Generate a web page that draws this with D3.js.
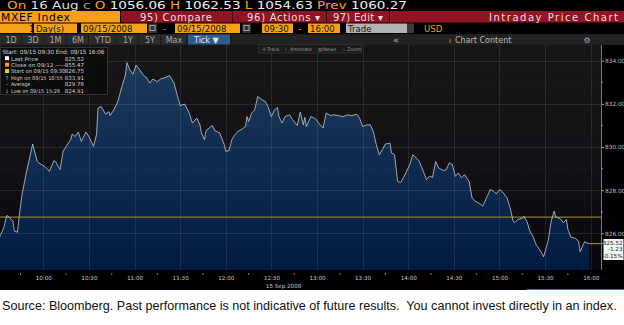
<!DOCTYPE html>
<html>
<head>
<meta charset="utf-8">
<script src="https://cdn.jsdelivr.net/npm/d3@7"></script>
<style>
  body { margin: 0; background: #fff; }
  svg { display: block; }
  .hdr { font-family: "DejaVu Sans", sans-serif; }
  .axis text { font-family: "DejaVu Sans", sans-serif; }
</style>
</head>
<body>
<svg width="624" height="325"></svg>
<script>
// intraday ticks, 15 Sep 2008
var times = ["09:30","09:34","09:36","09:38","09:40","09:41","09:43","09:44","09:46","09:49",
  "09:51","09:53","09:56","09:57","09:59","10:01","10:04","10:07","10:08","10:11",
  "10:13","10:15","10:18","10:19","10:21","10:23","10:25","10:28","10:30","10:33",
  "10:35","10:36","10:38","10:41","10:43","10:44","10:47","10:49","10:52","10:54",
  "10:55","10:57","10:59","11:01","11:04","11:06","11:08","11:10","11:12","11:15",
  "11:17","11:20","11:23","11:26","11:28","11:30","11:33","11:36","11:38","11:41",
  "11:43","11:44","11:46","11:47","11:51","11:53","11:56","11:59","12:00","12:02",
  "12:04","12:06","12:08","12:10","12:13","12:14","12:15","12:17","12:19","12:21",
  "12:24","12:26","12:28","12:30","12:32","12:34","12:35","12:37","12:39","12:42",
  "12:44","12:47","12:49","12:51","12:52","12:53","12:56","12:59","13:01","13:04",
  "13:06","13:09","13:11","13:14","13:17","13:20","13:23","13:26","13:28","13:30",
  "13:33","13:35","13:37","13:39","13:41","13:43","13:45","13:48","13:49","13:51",
  "13:53","13:55","13:57","14:01","14:03","14:07","14:09","14:12","14:14","14:16",
  "14:18","14:20","14:23","14:25","14:27","14:29","14:31","14:33","14:35","14:37",
  "14:40","14:42","14:44","14:47","14:49","14:52","14:54","14:56","14:58","15:00",
  "15:02","15:05","15:07","15:09","15:10","15:12","15:15","15:16","15:18","15:20",
  "15:22","15:24","15:27","15:28","15:29","15:32","15:34","15:36","15:37","15:40",
  "15:42","15:44","15:45","15:47","15:50","15:52","15:53","15:56","15:57","15:59"];

var prices = [825.64,826.26,826.83,826.72,826.56,826.10,826.05,826.72,827.80,828.87,
  829.49,830.14,829.33,829.26,829.18,829.10,828.87,829.37,829.33,828.95,
  829.80,830.03,830.34,830.60,830.49,830.69,830.26,830.69,830.49,830.03,
  830.57,831.80,831.88,831.52,831.64,831.46,831.80,832.11,832.88,833.34,
  833.91,833.57,833.37,833.80,833.52,833.31,833.21,832.96,833.15,833.03,
  833.15,833.21,833.31,832.96,832.42,831.92,831.99,831.57,831.11,831.34,
  831.03,830.65,830.34,830.75,831.00,830.75,830.65,830.11,829.80,829.83,
  830.34,830.57,830.72,830.80,830.95,831.41,831.18,831.57,831.72,832.34,
  832.18,832.11,831.83,831.41,831.72,831.83,831.41,831.11,831.41,831.49,
  831.26,831.00,831.62,831.03,831.37,830.95,831.41,831.31,831.11,830.88,
  831.57,831.46,831.49,831.46,831.40,831.49,831.45,831.52,831.34,830.95,
  831.03,831.03,830.72,830.11,829.64,829.88,830.14,830.18,829.72,829.64,
  828.41,828.35,828.60,829.18,829.64,829.37,829.03,828.49,828.64,828.60,
  829.33,829.03,828.91,828.95,829.26,829.18,828.64,828.80,828.57,828.72,
  828.41,827.64,827.49,827.37,827.26,827.72,828.03,827.95,827.83,828.03,
  827.92,827.64,827.18,826.56,826.49,826.64,826.69,826.79,826.56,826.10,
  825.87,825.49,825.18,825.06,824.91,825.64,826.56,827.03,826.75,826.68,
  826.49,826.64,826.18,825.82,825.76,825.64,825.15,825.61,825.57,825.52];

var startPrice = 826.75;
var yTicks = [826, 828, 830, 832, 834];
var yMinor = [827, 829, 831, 833];

var legendRows = [
  {icon: "sq", color: "#ffffff", label: "Last Price", value: "825.52"},
  {icon: "sq", color: "#f39a1c", label: "Close on 09/12 -----", value: "855.47"},
  {icon: "sq", color: "#f2c811", label: "Start on 09/15 09:30", value: "826.75"},
  {icon: "\u2191", color: "#aaa", label: "High on 09/15 10:55", value: "833.91"},
  {icon: "-", color: "#aaa", label: "Average", value: "829.76"},
  {icon: "\u2193", color: "#aaa", label: "Low on 09/15 15:29", value: "824.91"}
];

var periodButtons = ["1D","3D","1M","6M","YTD","1Y","5Y","Max"];

var svg = d3.select("svg");
var parseTime = d3.timeParse("%Y-%m-%d %H:%M");
var data = times.map(function (t, i) { return {t: parseTime("2008-09-15 " + t), v: prices[i]}; });

var plot = {left: 0, right: 601, top: 45, bottom: 270};

var x = d3.scaleTime()
    .domain([parseTime("2008-09-15 09:30"), parseTime("2008-09-15 16:00")])
    .range([-2.3, 590.7]);
var y = d3.scaleLinear()
    .domain([826, 834])
    .range([233.3, 60.7]);

function txt(g, px, py, s, fill, size, anchor) {
  return g.append("text").attr("class", "hdr")
    .attr("x", px).attr("y", py)
    .attr("fill", fill).attr("font-size", size)
    .attr("text-anchor", anchor || "start")
    .text(s);
}

//----------------------------------------------------------------- header
var orange = "#f6a01a", red = "#8f1424";
svg.append("rect").attr("x", 0).attr("y", 0).attr("width", 624).attr("height", 45).attr("fill", "#000");

var r1 = svg.append("text").attr("class", "hdr").attr("x", 7).attr("y", 9)
    .attr("font-size", 10.2).attr("textLength", 400).attr("lengthAdjust", "spacingAndGlyphs");
[["On ", orange], ["16 Aug ", "#ddd"], ["c ", "#999"], ["O ", orange], ["1056.06 ", "#eee"],
 ["H ", orange], ["1062.53 ", "#eee"], ["L ", orange], ["1054.63 ", "#eee"],
 ["Prev ", orange], ["1060.27", "#eee"]].forEach(function (p) {
  r1.append("tspan").attr("fill", p[1]).text(p[0]);
});

// row 2
svg.append("rect").attr("x", 0).attr("y", 11).attr("width", 120).attr("height", 11.5).attr("fill", orange);
svg.append("rect").attr("x", 121).attr("y", 11).attr("width", 503).attr("height", 11.5).attr("fill", red);
[232, 326, 389].forEach(function (sx) {
  svg.append("rect").attr("x", sx).attr("y", 11).attr("width", 1).attr("height", 11.5).attr("fill", "#3a0008");
});
txt(svg, 1, 20.8, "MXEF Index", "#000", 10.8).attr("textLength", 69);
txt(svg, 140, 20.8, "95) Compare", "#f3dede", 10).attr("textLength", 72);
txt(svg, 247, 20.8, "96) Actions \u25BE", "#f3dede", 10).attr("textLength", 73);
txt(svg, 333, 20.8, "97) Edit \u25BE", "#f3dede", 10).attr("textLength", 50);
txt(svg, 618, 20.8, "Intraday Price Chart", "#f3dede", 10, "end").attr("textLength", 129);

// row 3
var r3 = [
  {x: 0, w: 32, s: "1", a: "end", c: orange},
  {x: 34, w: 43, s: "Day(s)", a: "start", c: orange},
  {x: 81, w: 66, s: "09/15/2008", a: "start", c: orange},
  {x: 175, w: 65, s: "09/15/2008", a: "start", c: orange},
  {x: 262, w: 31, s: "09:30", a: "start", c: orange},
  {x: 308, w: 32, s: "16:00", a: "start", c: orange},
  {x: 346, w: 61, s: "Trade", a: "start", c: "#b3b3b3"}
];
r3.forEach(function (b) {
  svg.append("rect").attr("x", b.x).attr("y", 23.5).attr("width", b.w).attr("height", 9.5).attr("fill", b.c);
  txt(svg, b.a === "end" ? b.x + b.w - 3 : b.x + 2, 31.5, b.s, "#111", 8.6);
});
[148, 242].forEach(function (cx) {
  svg.append("rect").attr("x", cx).attr("y", 23.5).attr("width", 9).attr("height", 9.5).attr("fill", "#333");
  svg.append("rect").attr("x", cx + 2).attr("y", 25.5).attr("width", 5).attr("height", 5).attr("fill", "none").attr("stroke", "#bbb").attr("stroke-width", 0.8);
});
svg.append("rect").attr("x", 407).attr("y", 23.5).attr("width", 7).attr("height", 9.5).attr("fill", "#3a3a3a");
txt(svg, 163, 31.5, "-", orange, 8.6);
txt(svg, 298, 31.5, "-", orange, 8.6);
txt(svg, 424, 31.5, "USD", orange, 8.6);

// row 4
svg.append("rect").attr("x", 0).attr("y", 34).attr("width", 624).attr("height", 11).attr("fill", "#1d1d1d");
var bx = [0, 22, 44, 67, 89, 117, 139, 161];
periodButtons.forEach(function (b, i) {
  svg.append("rect").attr("x", bx[i]).attr("y", 34.5).attr("width", (i < 7 ? bx[i + 1] : 187) - bx[i] - 1).attr("height", 10).attr("fill", "#2b2b2b");
  txt(svg, (bx[i] + (i < 7 ? bx[i + 1] : 187)) / 2, 42.5, b, "#a8a8a8", 8, "middle");
});
svg.append("rect").attr("x", 188).attr("y", 34.5).attr("width", 42).attr("height", 10).attr("fill", "#2c5d8c");
txt(svg, 194, 42.5, "Tick \u25BC", "#e8e8e8", 8);
svg.append("rect").attr("x", 232).attr("y", 34.5).attr("width", 392).attr("height", 10).attr("fill", "#222");
txt(svg, 396, 42.5, "\u00AB", "#bbb", 9, "middle");
txt(svg, 455, 42.5, "Chart Content", "#bbb", 8);
txt(svg, 450, 42.5, "\u2240", "#bbb", 7, "middle");
txt(svg, 587, 42.5, "\u2699", "#aaa", 8, "middle");

//----------------------------------------------------------------- chart
var defs = svg.append("defs");
var bg = defs.append("linearGradient").attr("id", "bg").attr("x1", 0).attr("x2", 0).attr("y1", 0).attr("y2", 1);
bg.append("stop").attr("offset", "0%").attr("stop-color", "#161616");
bg.append("stop").attr("offset", "55%").attr("stop-color", "#121014");
bg.append("stop").attr("offset", "100%").attr("stop-color", "#07070d");
var fillG = defs.append("linearGradient").attr("id", "fillG").attr("gradientUnits", "userSpaceOnUse")
    .attr("x1", 0).attr("x2", 0).attr("y1", 60).attr("y2", 270);
fillG.append("stop").attr("offset", "0%").attr("stop-color", "#1b3a5c");
fillG.append("stop").attr("offset", "100%").attr("stop-color", "#021c41");
defs.append("clipPath").attr("id", "clip").append("rect")
    .attr("x", plot.left).attr("y", plot.top).attr("width", plot.right - plot.left).attr("height", plot.bottom - plot.top);

svg.append("rect").attr("x", 0).attr("y", plot.top).attr("width", 624).attr("height", 245).attr("fill", "#000");
svg.append("rect").attr("x", plot.left).attr("y", plot.top).attr("width", plot.right - plot.left)
    .attr("height", plot.bottom - plot.top).attr("fill", "url(#bg)");

var g = svg.append("g").attr("clip-path", "url(#clip)");

var area = d3.area()
    .x(function (d) { return x(d.t); })
    .y0(plot.bottom)
    .y1(function (d) { return y(d.v); });
var line = d3.line()
    .x(function (d) { return x(d.t); })
    .y(function (d) { return y(d.v); });

g.append("path").datum(data).attr("d", area).attr("fill", "url(#fillG)");

// grid on top of the fill
var halfHours = d3.timeMinute.every(30).range(parseTime("2008-09-15 10:00"), parseTime("2008-09-15 16:01"));
g.selectAll(".vgrid").data(halfHours).enter().append("line")
    .attr("x1", function (d) { return Math.round(x(d)) + 0.5; })
    .attr("x2", function (d) { return Math.round(x(d)) + 0.5; })
    .attr("y1", plot.top).attr("y2", plot.bottom)
    .attr("stroke", "#ffffff").attr("stroke-opacity", 0.09);
g.selectAll(".hgrid").data(yTicks).enter().append("line")
    .attr("x1", plot.left).attr("x2", plot.right)
    .attr("y1", function (d) { return Math.round(y(d)) + 0.5; })
    .attr("y2", function (d) { return Math.round(y(d)) + 0.5; })
    .attr("stroke", "#ffffff").attr("stroke-opacity", 0.1);
g.selectAll(".hminor").data(yMinor).enter().append("line")
    .attr("x1", plot.left).attr("x2", plot.right)
    .attr("y1", function (d) { return Math.round(y(d)) + 0.5; })
    .attr("y2", function (d) { return Math.round(y(d)) + 0.5; })
    .attr("stroke", "#ffffff").attr("stroke-opacity", 0.06).attr("stroke-dasharray", "1,2");

// start-of-day reference line
g.append("line")
    .attr("x1", plot.left).attr("x2", plot.right)
    .attr("y1", y(startPrice)).attr("y2", y(startPrice))
    .attr("stroke", "#8c7d2c").attr("stroke-width", 1.2);

g.append("path").datum(data).attr("d", line)
    .attr("fill", "none").attr("stroke", "#c3c9d3").attr("stroke-width", 0.8);

// last price marker line
var last = data[data.length - 1];
svg.append("line")
    .attr("x1", x(last.t)).attr("x2", 604)
    .attr("y1", y(last.v)).attr("y2", y(last.v))
    .attr("stroke", "#b8952a").attr("stroke-width", 1);

//----------------------------------------------------------------- axes
var yAxis = svg.append("g").attr("class", "axis")
    .attr("transform", "translate(" + plot.right + ",0)")
    .call(d3.axisRight(y).tickValues(yTicks).tickFormat(d3.format(".2f")).tickSize(3).tickPadding(1));
yAxis.select(".domain").remove();
yAxis.selectAll("line").attr("stroke", "#aaa");
yAxis.selectAll("text").attr("fill", "#bbb").attr("font-size", 5.8);
svg.append("line").attr("x1", plot.right + 0.5).attr("x2", plot.right + 0.5)
    .attr("y1", plot.top).attr("y2", plot.bottom).attr("stroke", "#777");
svg.selectAll(".yminor").data(yMinor).enter().append("line")
    .attr("x1", plot.right).attr("x2", plot.right + 2)
    .attr("y1", function (d) { return y(d); }).attr("y2", function (d) { return y(d); })
    .attr("stroke", "#888");

// last price box
svg.append("rect").attr("x", 603.5).attr("y", 239).attr("width", 20).attr("height", 21).attr("fill", "#f4f4f4");
[["825.52", 244.5], ["-1.23", 251.3], ["-0.15%", 258]].forEach(function (p) {
  txt(svg, 622.5, p[1], p[0], "#222", 5.6, "end");
});

// x axis strip
svg.append("rect").attr("x", 0).attr("y", plot.bottom).attr("width", 624).attr("height", 20).attr("fill", "#000");
var xAxis = svg.append("g").attr("class", "axis")
    .attr("transform", "translate(0," + plot.bottom + ")")
    .call(d3.axisBottom(x).tickValues(halfHours).tickFormat(d3.timeFormat("%H:%M")).tickSize(0).tickPadding(6));
xAxis.select(".domain").remove();
xAxis.selectAll("text").attr("fill", "#c8c8c8").attr("font-size", 5.6);
var quarters = d3.timeMinute.every(15).range(parseTime("2008-09-15 09:45"), parseTime("2008-09-15 16:01"))
    .filter(function (d) { return d.getMinutes() % 30 !== 0; });
svg.selectAll(".xminor").data(quarters).enter().append("line")
    .attr("x1", function (d) { return x(d); }).attr("x2", function (d) { return x(d); })
    .attr("y1", plot.bottom + 3).attr("y2", plot.bottom + 5)
    .attr("stroke", "#777");
txt(svg, x(parseTime("2008-09-15 12:38")), 288, "15 Sep 2008", "#c8c8c8", 5.6, "middle");
svg.append("line").attr("x1", 527).attr("x2", 624).attr("y1", 289.5).attr("y2", 289.5)
    .attr("stroke", "#2a7fb0").attr("stroke-width", 1);

//----------------------------------------------------------------- legend + toolbar
var lg = svg.append("g");
lg.append("rect").attr("x", 0.5).attr("y", 47.5).attr("width", 107).attr("height", 47)
    .attr("fill", "#0a0a0a").attr("fill-opacity", 0.85).attr("stroke", "#333");
txt(lg, 2.5, 54, "Start: 09/15 09:30 End: 09/15 16:06", "#d0d0d0", 5.8).attr("textLength", 102);
legendRows.forEach(function (r, i) {
  var ly = 60.5 + i * 6.4;
  if (r.icon === "sq") {
    lg.append("rect").attr("x", 5).attr("y", ly - 4.3).attr("width", 4).attr("height", 4).attr("fill", r.color);
  } else {
    txt(lg, 7, ly, r.icon, r.color, 5.5, "middle");
  }
  txt(lg, 11, ly, r.label, "#d0d0d0", 5.3)
    .attr("textLength", r.label.length * 2.72).attr("lengthAdjust", "spacingAndGlyphs");
  txt(lg, 84, ly, r.value, "#d0d0d0", 5.5, "end");
});

var tb = svg.append("g");
tb.append("rect").attr("x", 258.5).attr("y", 44.5).attr("width", 103).attr("height", 8.5)
    .attr("fill", "#1b1b1b").attr("stroke", "#2e2e2e");
[["\u271B", 262, "Track", 267], ["\u2215", 285, "Annotate", 290], ["\u25A4", 318, "News", 323], ["\u2315", 343, "Zoom", 347]]
  .forEach(function (t) {
    txt(tb, t[1], 50.8, t[0], "#888", 4.8);
    txt(tb, t[3], 50.8, t[2], "#999", 4.8);
  });

//----------------------------------------------------------------- footnote
svg.append("text")
    .attr("x", 2).attr("y", 310)
    .attr("font-family", "'Liberation Sans', Arial, sans-serif")
    .attr("font-size", 12.6)
    .attr("fill", "#111")
    .style("white-space", "pre")
    .text("Source: Bloomberg. Past performance is not indicative of future results.  You cannot invest directly in an index.");
</script>
</body>
</html>
